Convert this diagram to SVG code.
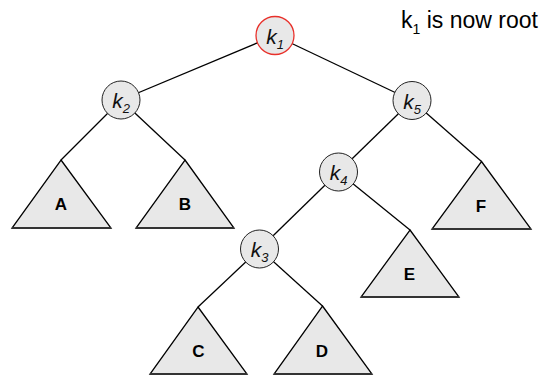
<svg xmlns="http://www.w3.org/2000/svg" width="548" height="375" viewBox="0 0 548 375">
  <style>
    .edge { stroke: #000; stroke-width: 1.3; fill: none; }
    .node { fill: #e8e8e8; stroke: #222; stroke-width: 1; }
    .root { stroke: #e8302a; stroke-width: 1.3; }
    .tree { fill: #e8e8e8; stroke: #000; stroke-width: 1.3; stroke-linejoin: miter; }
    .base { stroke: #333; stroke-width: 2; }
    .klabel { font-family: "Liberation Sans", Arial, sans-serif; font-size: 21px; font-style: italic; fill: #111; text-anchor: middle; }
    .sub { font-size: 13px; }
    .tlabel { font-family: "Liberation Sans", Arial, sans-serif; font-size: 17px; font-weight: bold; fill: #000; text-anchor: middle; }
    .note { font-family: "Liberation Sans", Arial, sans-serif; font-size: 23px; fill: #000; }
  </style>

  <!-- connectors -->
  <g id="edges">
    <line class="edge" x1="275" y1="35.5" x2="121" y2="100"/>
    <line class="edge" x1="275" y1="35.5" x2="412" y2="100.5"/>
    <line class="edge" x1="121" y1="100" x2="61" y2="160"/>
    <line class="edge" x1="121" y1="100" x2="185" y2="160"/>
    <line class="edge" x1="412" y1="100.5" x2="338.5" y2="172"/>
    <line class="edge" x1="412" y1="100.5" x2="481.5" y2="161.5"/>
    <line class="edge" x1="338.5" y1="172" x2="259.5" y2="249"/>
    <line class="edge" x1="338.5" y1="172" x2="410" y2="230"/>
    <line class="edge" x1="259.5" y1="249" x2="198" y2="307"/>
    <line class="edge" x1="259.5" y1="249" x2="322.5" y2="306"/>
  </g>

  <!-- key nodes -->
  <g id="k1">
    <circle class="node root" cx="275" cy="35.5" r="19"/>
    <text class="klabel" x="275" y="43.5">k<tspan class="sub" dy="5">1</tspan></text>
  </g>
  <g id="k2">
    <circle class="node" cx="121" cy="100" r="19"/>
    <text class="klabel" x="121" y="108">k<tspan class="sub" dy="5">2</tspan></text>
  </g>
  <g id="k5">
    <circle class="node" cx="412" cy="100.5" r="19"/>
    <text class="klabel" x="412" y="108.5">k<tspan class="sub" dy="5">5</tspan></text>
  </g>
  <g id="k4">
    <circle class="node" cx="338.5" cy="172" r="19"/>
    <text class="klabel" x="338.5" y="180">k<tspan class="sub" dy="5">4</tspan></text>
  </g>
  <g id="k3">
    <circle class="node" cx="259.5" cy="249" r="19"/>
    <text class="klabel" x="259.5" y="257">k<tspan class="sub" dy="5">3</tspan></text>
  </g>

  <!-- subtrees -->
  <g id="A">
    <polygon class="tree" points="61,160 111,228 12,228"/>
    <line class="base" x1="12" y1="228" x2="111" y2="228"/>
    <text class="tlabel" x="61" y="210">A</text>
  </g>
  <g id="B">
    <polygon class="tree" points="185,160 234,228 136,228"/>
    <line class="base" x1="136" y1="228" x2="234" y2="228"/>
    <text class="tlabel" x="185" y="210">B</text>
  </g>
  <g id="F">
    <polygon class="tree" points="481.5,161.5 531,229 432,229"/>
    <line class="base" x1="432" y1="229" x2="531" y2="229"/>
    <text class="tlabel" x="481" y="212">F</text>
  </g>
  <g id="E">
    <polygon class="tree" points="410,230 459,297 361,297"/>
    <line class="base" x1="361" y1="297" x2="459" y2="297"/>
    <text class="tlabel" x="409.5" y="280">E</text>
  </g>
  <g id="C">
    <polygon class="tree" points="198,307 247,374 150,374"/>
    <line class="base" x1="150" y1="374" x2="247" y2="374"/>
    <text class="tlabel" x="198.5" y="357">C</text>
  </g>
  <g id="D">
    <polygon class="tree" points="322.5,306 372,374 274,374"/>
    <line class="base" x1="274" y1="374" x2="372" y2="374"/>
    <text class="tlabel" x="322" y="357">D</text>
  </g>

  <!-- caption -->
  <text class="note" x="401" y="28">k<tspan font-size="14" dy="6">1</tspan><tspan dy="-6"> is now root</tspan></text>
</svg>
